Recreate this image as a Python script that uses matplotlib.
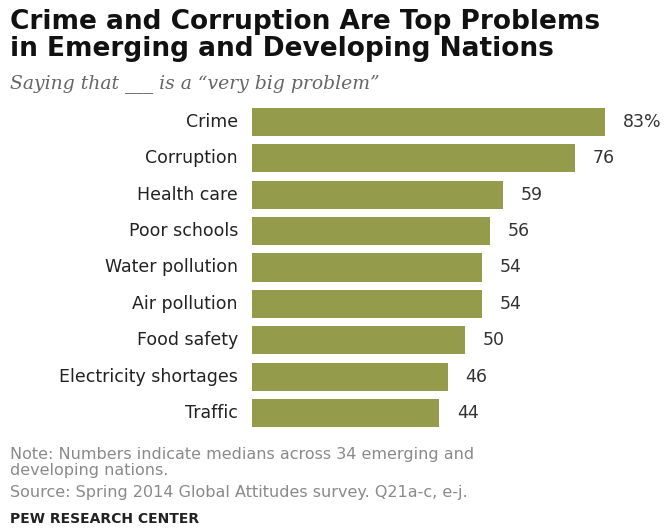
import matplotlib.pyplot as plt

categories = ["Crime", "Corruption", "Health care", "Poor schools", "Water pollution",
              "Air pollution", "Food safety", "Electricity shortages", "Traffic"]
values = [83, 76, 59, 56, 54, 54, 50, 46, 44]
value_labels = ["83%", "76", "59", "56", "54", "54", "50", "46", "44"]

bar_color = "#949b4b"
W, H = 672, 531

fig = plt.figure(figsize=(6.72, 5.31), dpi=100)
ax = fig.add_axes([252 / W, 1 - 431.2 / H, 382.5 / W, (431.2 - 103.8) / H])

y = list(range(len(categories)))
ax.barh(y, values, height=0.77, color=bar_color)
ax.set_xlim(0, 90)
ax.set_ylim(len(categories) - 0.5, -0.5)
ax.axis("off")

for yi, v, lab, cat in zip(y, values, value_labels, categories):
    ax.text(v + 4.2, yi, lab, va="center", ha="left", fontsize=12.5,
            family="DejaVu Sans", color="#333333")
    ax.text(-3.3, yi, cat, va="center", ha="right", fontsize=12.5,
            family="DejaVu Sans", color="#222222")

fig.text(10 / W, 1 - 22 / H, "Crime and Corruption Are Top Problems",
         fontsize=19, fontweight="bold", family="DejaVu Sans", va="center", color="#111111")
fig.text(10 / W, 1 - 49 / H, "in Emerging and Developing Nations",
         fontsize=19, fontweight="bold", family="DejaVu Sans", va="center", color="#111111")
fig.text(10 / W, 1 - 84 / H, "Saying that ___ is a \u201cvery big problem\u201d",
         fontsize=13.5, style="italic", family="DejaVu Serif", va="center", color="#666666")

fig.text(10 / W, 1 - 455 / H, "Note: Numbers indicate medians across 34 emerging and",
         fontsize=11.5, family="DejaVu Sans", va="center", color="#8a8a8a")
fig.text(10 / W, 1 - 471 / H, "developing nations.",
         fontsize=11.5, family="DejaVu Sans", va="center", color="#8a8a8a")
fig.text(10 / W, 1 - 492 / H, "Source: Spring 2014 Global Attitudes survey. Q21a-c, e-j.",
         fontsize=11.5, family="DejaVu Sans", va="center", color="#8a8a8a")
fig.text(10 / W, 1 - 519 / H, "PEW RESEARCH CENTER",
         fontsize=10, fontweight="bold", family="DejaVu Sans", va="center", color="#222222")

fig.savefig("out.png", dpi=100)
